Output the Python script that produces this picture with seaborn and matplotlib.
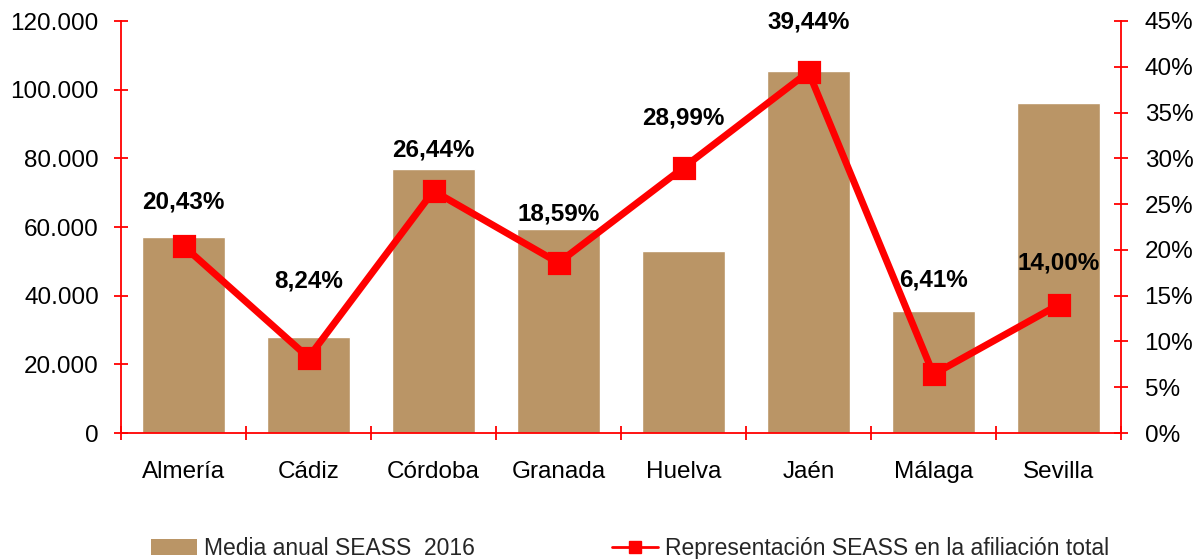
import matplotlib
matplotlib.use("Agg")
import matplotlib.pyplot as plt
import seaborn as sns
import pandas as pd
from matplotlib.ticker import FuncFormatter, FixedLocator
from matplotlib.lines import Line2D
from matplotlib.patches import Patch

categories = ["Almería", "Cádiz", "Córdoba", "Granada", "Huelva", "Jaén", "Málaga", "Sevilla"]
media_anual = [57000, 28000, 76800, 59500, 53100, 105400, 35600, 96100]
representacion = [20.43, 8.24, 26.44, 18.59, 28.99, 39.44, 6.41, 14.00]
label_offsets_px = [44, 77, 41, 49, 50, 50, 94, 42]

bar_name = "Media anual SEASS  2016"
line_name = "Representación SEASS en la afiliación total"

sns.set_theme(style="white")
plt.rcParams["font.family"] = ["Liberation Sans", "DejaVu Sans"]

df = pd.DataFrame({"provincia": categories, "media": media_anual, "pct": representacion})

fig = plt.figure(figsize=(11.96, 5.59), dpi=100)
ax = fig.add_axes([121/1196, 1-433/559, 1000/1196, 412/559])

bar_color = "#BA9566"
red = "#FF0000"
sns.barplot(data=df, x="provincia", y="media", color=bar_color, width=0.67,
            saturation=1, ax=ax)
ax.set_xlim(-0.5, 7.5)
ax.set_ylim(0, 120000)
ax.set_xlabel("")
ax.set_ylabel("")
ax.yaxis.set_major_locator(FixedLocator(range(0, 120001, 20000)))
ax.yaxis.set_major_formatter(FuncFormatter(lambda v, p: f"{int(v):,}".replace(",", ".")))

ax2 = ax.twinx()
sns.pointplot(data=df, x="provincia", y="pct", color=red, markers="s",
              linestyles="-", ax=ax2, markersize=13, linewidth=5)
ax2.set_xlim(-0.5, 7.5)
ax2.set_ylim(0, 45)
ax2.yaxis.set_major_locator(FixedLocator(range(0, 46, 5)))
ax2.yaxis.set_major_formatter(FuncFormatter(lambda v, p: f"{int(v)}%"))
ax2.set_ylabel("")
ax2.set_xlabel("")

for a in (ax, ax2):
    for s in a.spines.values():
        s.set_visible(False)
for a, side in ((ax, "left"), (ax, "bottom"), (ax2, "right")):
    a.spines[side].set_visible(True)
    a.spines[side].set_color(red)
    a.spines[side].set_linewidth(1.3)

ax.tick_params(axis="y", direction="inout", length=10, width=1.3, color=red,
               labelsize=17.5, labelcolor="black", left=True, pad=11)
ax2.tick_params(axis="y", direction="inout", length=10, width=1.3, color=red,
                labelsize=17.5, labelcolor="black", right=True, pad=12)
ax.tick_params(axis="x", which="major", length=0, labelsize=17.5, labelcolor="black", pad=20)
ax.xaxis.set_minor_locator(FixedLocator([i - 0.5 for i in range(9)]))
ax.tick_params(axis="x", which="minor", direction="inout", length=10, width=1.3,
               color=red, bottom=True)
ax2.tick_params(axis="x", which="both", length=0, labelbottom=False)

for i, (v, off) in enumerate(zip(representacion, label_offsets_px)):
    ax2.annotate(f"{v:.2f}%".replace(".", ","), xy=(i, v),
                 xytext=(0, off / 1.389), textcoords="offset points",
                 ha="center", va="center", fontsize=17.5, fontweight="bold",
                 color="black")

if ax.get_legend():
    ax.get_legend().remove()
if ax2.get_legend():
    ax2.get_legend().remove()
handles = [Patch(facecolor=bar_color, edgecolor="none"),
           Line2D([], [], color=red, linewidth=2, marker="s", markersize=8)]
fig.legend(handles, [bar_name, line_name], loc="center", bbox_to_anchor=(0.527, 0.018),
           ncol=2, frameon=False, fontsize=16.5, columnspacing=6.0,
           handlelength=2.0, handletextpad=0.3)

fig.savefig("out.png", dpi=100)
